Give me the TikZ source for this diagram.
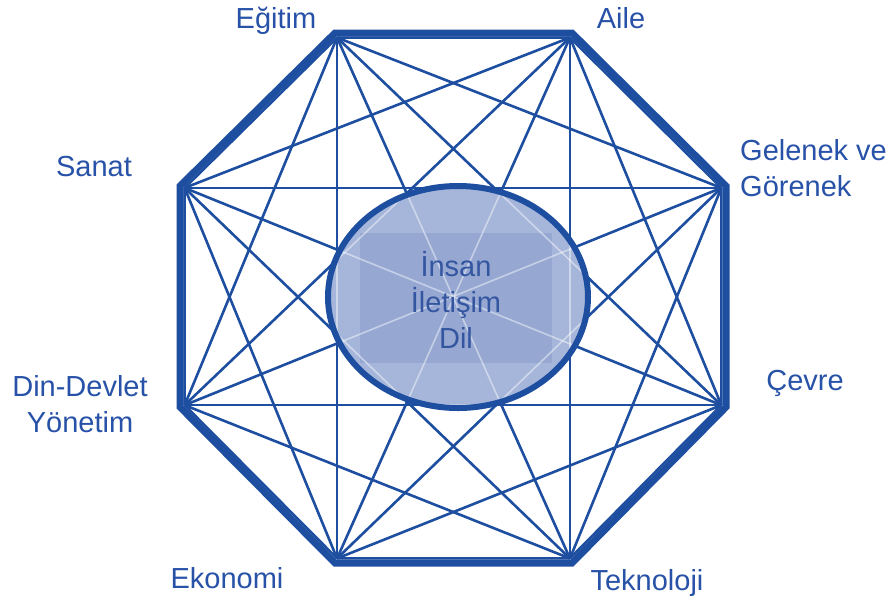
\documentclass[tikz,border=0pt]{standalone}
\usepackage{fontspec}
\setmainfont{Liberation Sans}
\usetikzlibrary{calc}
\definecolor{lineblue}{RGB}{30,78,160}
\definecolor{textblue}{RGB}{40,82,168}
\definecolor{fillblue}{RGB}{166,182,218}
\definecolor{rectblue}{RGB}{150,168,210}
\definecolor{innertext}{RGB}{52,86,160}
\begin{document}
\begin{tikzpicture}[x=1pt,y=-1pt,
  web/.style={draw=lineblue,line width=2.6pt},
  webhi/.style={draw=white,opacity=0.45,line width=1.6pt},
  frame/.style={draw=lineblue,line width=7pt,line join=miter},
  lbl/.style={text=textblue,font=\fontsize{29}{36}\selectfont,inner sep=0pt,align=center}]
\useasboundingbox (0,0) rectangle (894,603);
\fill[white] (0,0) rectangle (894,603);
\coordinate (O) at (453,298);
\coordinate (E) at (335,33);
\coordinate (A) at (572,33);
\coordinate (G) at (726,186);
\coordinate (C) at (726,407);
\coordinate (T) at (572,563);
\coordinate (K) at (335,563);
\coordinate (D) at (180,407);
\coordinate (S) at (180,186);
\foreach \v in {E,A,G,C,T,K,D,S} \coordinate (\v i) at ($(\v)!5pt!(O)$);
\def\pairs{E/A,E/G,E/C,E/T,E/K,E/D,E/S,A/G,A/C,A/T,A/K,A/D,A/S,G/C,G/T,G/K,G/D,G/S,C/T,C/K,C/D,C/S,T/K,T/D,T/S,K/D,K/S,D/S}
\foreach \a/\b in \pairs \draw[web] (\a i) -- (\b i);
\draw[frame] (E) -- (A) -- (G) -- (C) -- (T) -- (K) -- (D) -- (S) -- cycle;
% central ellipse
\fill[fillblue] (458,297) ellipse [x radius=130, y radius=111];
\begin{scope}
  \clip (458,297) ellipse [x radius=130, y radius=111];
  \fill[rectblue] (360,233) rectangle (552,363);
  \foreach \a/\b in \pairs \draw[webhi] (\a i) -- (\b i);
\end{scope}
\draw[lineblue,line width=6pt] (458,297) ellipse [x radius=130, y radius=111];
\node[lbl,text=innertext] (center) at (456,300) {İnsan\\İletişim\\Dil};
% labels
\node[lbl,anchor=base] (egitim) at (276,28) {Eğitim};
\node[lbl,anchor=base] (aile) at (621,28) {Aile};
\node[lbl,anchor=base] (sanat) at (94,176) {Sanat};
\node[lbl,align=left,anchor=west] (gelenek) at (740,168) {Gelenek ve\\Görenek};
\node[lbl,anchor=base] (cevre) at (805,390) {Çevre};
\node[lbl] (din) at (80,404) {Din-Devlet\\Yönetim};
\node[lbl,anchor=base] (ekonomi) at (227,588) {Ekonomi};
\node[lbl,anchor=base] (teknoloji) at (647,590) {Teknoloji};
\end{tikzpicture}
\end{document}
